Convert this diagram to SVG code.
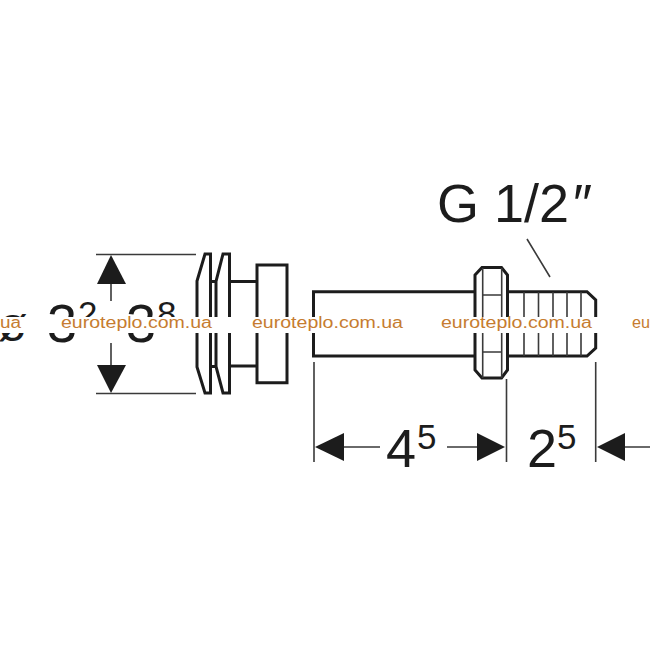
<svg xmlns="http://www.w3.org/2000/svg" width="650" height="650" viewBox="0 0 650 650">
<style>
.s{fill:none;stroke:#1c1c1c;stroke-width:3;stroke-linejoin:miter}
.t{fill:none;stroke:#3a3a3a;stroke-width:1.6}
.a{fill:#1c1c1c;stroke:none}
text{font-family:"Liberation Sans",Arial,sans-serif;fill:#1c1c1c}
.m{font-size:54px}
.u{font-size:35px}
.w{font-size:16px;fill:#c67c30}
</style>
<rect width="650" height="650" fill="#fff"/>
<g id="connectors">
<path class="t" d="M96 254.5H196M96 393.5H196M111 284V301M111 343V365"/>
<polygon class="a" points="111,255 97,284 126,284"/>
<polygon class="a" points="111,393 97,365 126,365"/>
<path class="t" d="M527 239L550 277M314 362V462M506.5 379V462M595.7 362V462M344 447H380M447 447H478M625 447H650"/>
<polygon class="a" points="315,447 344,433 344,461"/>
<polygon class="a" points="505,447 477,433 477,461"/>
<polygon class="a" points="597,447 625,433 625,461"/>
</g>
<g id="clip-part">
<path class="s" d="M197 320V281L205 254H210.5V320M210.5 281.5H216M216 320V281.5L223 254H229.5V320M230 281.5H257M257 320V265H287V320"/>
<path class="s" d="M197 330V367L205 393H210.5V330M210.5 366.5H216M216 330V366.5L223 393H229.5V330M230 366H257M257 330V382.7H287V330"/>
</g>
<g id="tube">
<path class="s" d="M475 291.7H313.5V356H475"/>
</g>
<g id="nut">
<polygon class="s" points="475,275 482,267.5 501.5,267.5 507.5,275 507.5,370 501.5,378 482,378 475,370"/>
<path class="t" d="M482.7 268V378M501.7 268V378M483 295H501M483 352H501"/>
</g>
<g id="thread">
<path class="s" d="M508 291.7H587L595.7 300V348L587 356H508"/>
<path class="t" d="M524 292V356M538.5 292V356M553 292V356M567 292V356M581 292V356"/>
</g>
<g id="labels">
<text x="437" y="222" style="font-size:54px">G 1/2<tspan dx="4">″</tspan></text>
<text x="-2" y="341" style="font-size:48px">ø</text>
<text class="m" x="47" y="342">3</text><text class="u" x="78" y="326">2</text>
<text class="m" x="126" y="342">3</text><text class="u" x="157" y="326">8</text>
<text class="m" x="386" y="467">4</text><text class="u" x="417" y="449">5</text>
<text class="m" x="527" y="467">2</text><text class="u" x="557" y="449">5</text>
</g>
<g id="watermark">
<rect x="0" y="317" width="650" height="16" fill="#fff"/>
<text class="w" x="0" y="327.5" textLength="21" lengthAdjust="spacingAndGlyphs">ua</text>
<text class="w" x="61" y="327.5" textLength="151" lengthAdjust="spacingAndGlyphs">euroteplo.com.ua</text>
<text class="w" x="252" y="327.5" textLength="151" lengthAdjust="spacingAndGlyphs">euroteplo.com.ua</text>
<text class="w" x="441" y="327.5" textLength="151" lengthAdjust="spacingAndGlyphs">euroteplo.com.ua</text>
<text class="w" x="632" y="327.5" textLength="18" lengthAdjust="spacingAndGlyphs">eu</text>
</g>
</svg>
